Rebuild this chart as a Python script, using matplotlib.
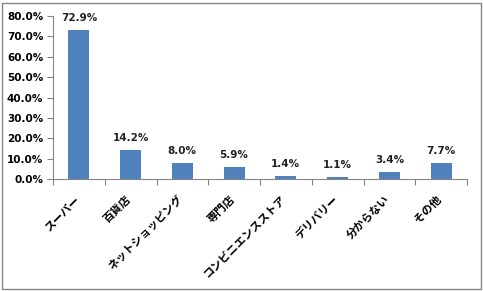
import matplotlib.pyplot as plt
from matplotlib.patches import Rectangle

categories = ['スーパー', '百貨店', 'ネットショッピング', '専門店',
              'コンビニエンスストア', 'デリバリー', '分からない', 'その他']
values = [72.9, 14.2, 8.0, 5.9, 1.4, 1.1, 3.4, 7.7]
yticks = [0, 10, 20, 30, 40, 50, 60, 70, 80]

plt.rcParams['font.family'] = ['Noto Sans CJK JP', 'DejaVu Sans']

fig = plt.figure(figsize=(4.83, 2.91), dpi=100)
ax = fig.add_axes([53 / 483, 1 - 179 / 291, (467 - 53) / 483, (179 - 16) / 291])

x = range(len(values))
bars = ax.bar(x, values, width=0.41, color='#4f81bd')

for xi, v in zip(x, values):
    ax.text(xi, v + 3.5, f'{v:.1f}%', ha='center', va='bottom',
            fontsize=7.5, fontweight='bold', family='DejaVu Sans', color='#222222')

ax.set_xlim(-0.5, len(values) - 0.5)
ax.set_ylim(0, 80)
ax.set_yticks(yticks)
ax.set_yticklabels([f'{t:.1f}%' for t in yticks], fontsize=7.5,
                   fontweight='bold', family='DejaVu Sans')

ax.set_xticks([i + 0.5 for i in range(-1, len(values))], minor=False)
ax.set_xticklabels([])
ax.tick_params(axis='x', length=4, color='#868686', width=0.8)
ax.tick_params(axis='y', length=4, color='#868686', width=0.8, pad=3)

for xi, lab in zip(x, categories):
    ax.text(xi - 0.03, -9, lab, rotation=45, rotation_mode='anchor',
            ha='right', va='center', fontsize=8, fontweight='bold',
            transform=ax.transData, clip_on=False)

for s in ['top', 'right']:
    ax.spines[s].set_visible(False)
for s in ['left', 'bottom']:
    ax.spines[s].set_color('#868686')
    ax.spines[s].set_linewidth(0.8)

fig.patches.append(Rectangle((2 / 483, 2 / 291), 479 / 483, 286 / 291,
                             transform=fig.transFigure, fill=False,
                             edgecolor='#868686', linewidth=1))

fig.savefig('out.png', dpi=100)
